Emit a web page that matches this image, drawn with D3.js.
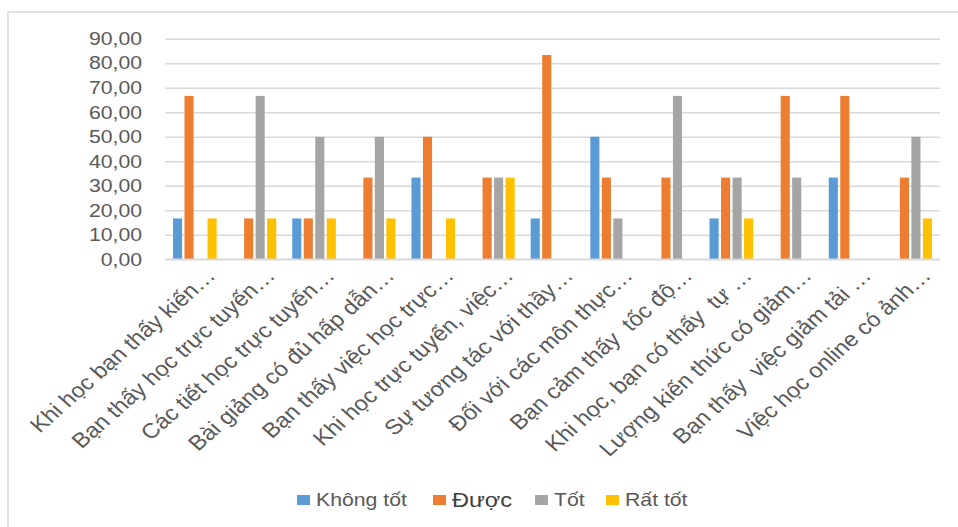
<!DOCTYPE html>
<html>
<head>
<meta charset="utf-8">
<script src="https://cdn.jsdelivr.net/npm/d3@7"></script>
<style>
  html, body { margin: 0; padding: 0; background: #fff; }
  svg { display: block; }
  text { font-family: "Liberation Sans", Arial, sans-serif; }
</style>
</head>
<body>
<svg id="chart" width="958" height="527"></svg>
<script>
const categories = [
  "Khi học bạn thấy kiến…",
  "Bạn thấy học trực tuyến…",
  "Các tiết học trực tuyến…",
  "Bài giảng có đủ hấp dẫn…",
  "Bạn thấy việc học trực…",
  "Khi học trực tuyến, việc…",
  "Sự tương tác với thầy…",
  "Đối với các môn thực…",
  "Bạn cảm thấy  tốc độ…",
  "Khi học, bạn có thấy  tự …",
  "Lượng kiến thức có giảm…",
  "Bạn thấy  việc giảm tải …",
  "Việc học online có ảnh…"
];
const seriesNames = ["Không tốt", "Được", "Tốt", "Rất tốt"];
const khongTot = [16.67, 0, 16.67, 0, 33.33, 0, 16.67, 50, 0, 16.67, 0, 33.33, 0];
const duoc     = [66.67, 16.67, 16.67, 33.33, 50, 33.33, 83.33, 33.33, 33.33, 33.33, 66.67, 66.67, 33.33];
const tot      = [0, 66.67, 50, 50, 0, 33.33, 0, 16.67, 66.67, 33.33, 33.33, 0, 50];
const ratTot   = [16.67, 16.67, 16.67, 16.67, 16.67, 33.33, 0, 0, 0, 16.67, 0, 0, 16.67];
const yTicks = [0, 10, 20, 30, 40, 50, 60, 70, 80, 90];
const colors = ["#5B9BD5", "#ED7D31", "#A5A5A5", "#FFC000"];

const seriesValues = [khongTot, duoc, tot, ratTot];
const table = categories.map((c, i) => ({
  cat: c,
  vals: seriesNames.map((s, j) => ({ name: s, value: seriesValues[j][i], idx: j }))
}));

const SX = 1.18;  // horizontal stretch of the reference text
const SXL = 1.13; // stretch for rotated category labels
const svg = d3.select("#chart");

// chart frame (right/bottom edges beyond the picture)
svg.append("rect")
  .attr("x", 8).attr("y", 12).attr("width", 1000).attr("height", 600)
  .attr("fill", "none").attr("stroke", "#d9d9d9").attr("stroke-width", 1.5);

const pLeft = 165, pRight = 940, pTop = 38.7, pBottom = 259.3;

const y = d3.scaleLinear().domain([0, 90]).range([pBottom, pTop]);
const x0 = d3.scaleBand().domain(categories).range([pLeft, pRight])
  .paddingInner(0.228).paddingOuter(0.114);
const x1 = d3.scaleBand().domain(seriesNames).range([0, x0.bandwidth()]);

const locale = d3.formatLocale({ decimal: ",", thousands: ".", grouping: [3], currency: ["", ""] });
const fmt = locale.format(".2f");

// gridlines
const grid = svg.append("g").attr("transform", `translate(${pLeft},0)`)
  .call(d3.axisLeft(y).tickValues(yTicks).tickSize(-(pRight - pLeft)).tickFormat(""));
grid.select(".domain").remove();
grid.selectAll(".tick line").attr("stroke", "#d9d9d9").attr("stroke-width", 1.5);

// y axis labels
const yAxis = svg.append("g").attr("transform", `translate(${pLeft},0)`)
  .call(d3.axisLeft(y).tickValues(yTicks).tickSize(0).tickFormat(fmt));
yAxis.select(".domain").remove();
yAxis.selectAll(".tick text")
  .attr("x", null)
  .attr("transform", `translate(-23,0) scale(${SX},1)`)
  .attr("text-anchor", "end")
  .attr("fill", "#595959")
  .style("font-size", "18px")
  .style("font-family", "'Liberation Sans', Arial, sans-serif");

// bars
const groups = svg.append("g").selectAll("g").data(table).join("g")
  .attr("transform", d => `translate(${x0(d.cat)},0)`);
groups.selectAll("rect").data(d => d.vals.filter(v => v.value > 0)).join("rect")
  .attr("x", d => x1(d.name) + 1.2)
  .attr("width", x1.bandwidth() - 2.4)
  .attr("y", d => y(d.value))
  .attr("height", d => y(0) - y(d.value))
  .attr("fill", d => colors[d.idx]);

// x axis
const xAxis = svg.append("g").attr("transform", `translate(0,${pBottom})`)
  .call(d3.axisBottom(x0).tickSize(0).tickFormat(""));
xAxis.select(".domain").attr("stroke", "#d9d9d9").attr("stroke-width", 1.5)
  .attr("d", `M${pLeft},0H${pRight}`);
xAxis.selectAll(".tick text").remove();

svg.append("g").selectAll("g").data(categories).join("g")
  .attr("transform", d => `translate(${x0(d) + x0.bandwidth() / 2 + 22},277) scale(${SXL},1) rotate(-45)`)
  .append("text")
  .attr("text-anchor", "end")
  .attr("fill", "#595959")
  .style("font-size", "21px")
  .style("white-space", "pre")
  .text(d => d);

// legend
const legendItems = [
  { name: seriesNames[0], x: 297, size: 18, color: "#595959" },
  { name: seriesNames[1], x: 433, size: 20, color: "#404040" },
  { name: seriesNames[2], x: 535, size: 18, color: "#595959" },
  { name: seriesNames[3], x: 606, size: 18, color: "#595959" }
];
const lg = svg.append("g").selectAll("g").data(legendItems).join("g")
  .attr("transform", d => `translate(${d.x},500)`);
lg.append("rect").attr("x", 0).attr("y", -5).attr("width", 13).attr("height", 10)
  .attr("fill", (d, i) => colors[i]);
lg.append("text")
  .attr("transform", `translate(19,0) scale(${SX},1)`)
  .attr("dy", "0.36em")
  .attr("fill", d => d.color)
  .style("font-size", d => d.size + "px")
  .text(d => d.name);
</script>
</body>
</html>
